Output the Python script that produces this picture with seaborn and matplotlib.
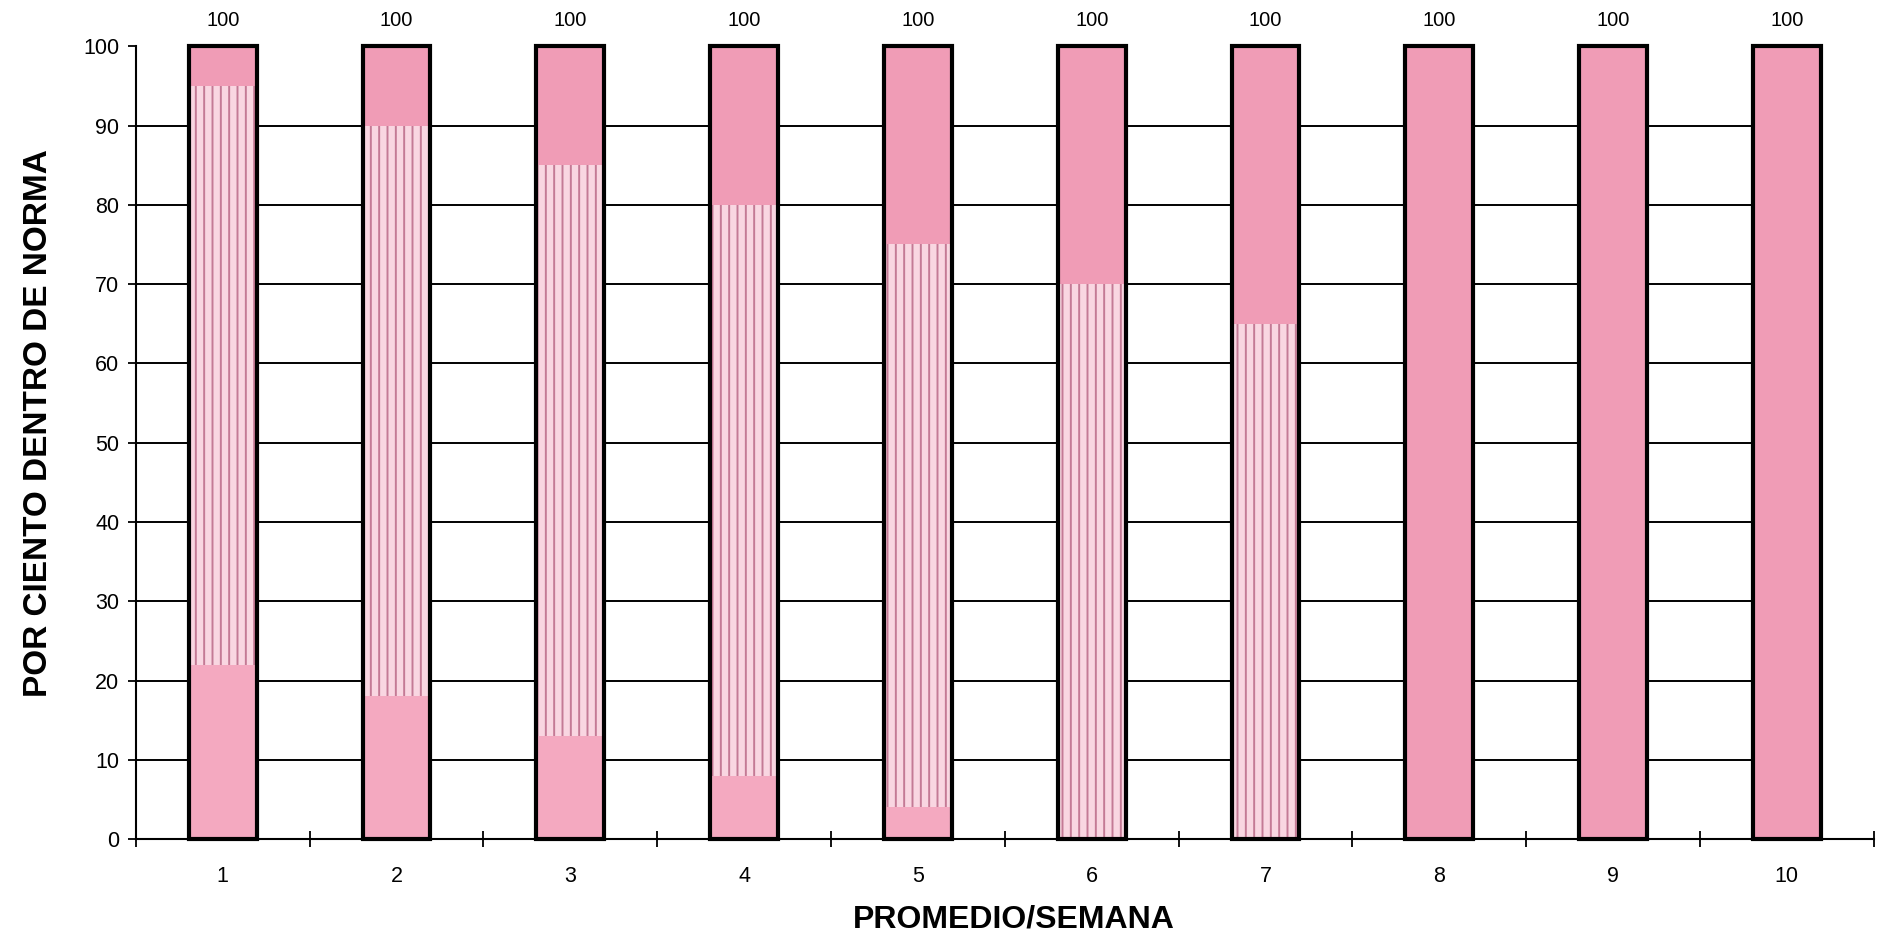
import matplotlib
matplotlib.use("Agg")
import matplotlib.pyplot as plt
import seaborn as sns
import pandas as pd

# Weekly averages: share of samples per band (each week sums to 100 %)
semanas = ["1", "2", "3", "4", "5", "6", "7", "8", "9", "10"]
bajo = [22, 18, 13, 8, 4, 0, 0, 0, 0, 0]          # lower solid band
rayado = [73, 72, 72, 72, 71, 70, 65, 0, 0, 0]   # hatched middle band
alto = [5, 10, 15, 20, 25, 30, 35, 100, 100, 100]  # upper solid band
y_ticks = [0, 10, 20, 30, 40, 50, 60, 70, 80, 90, 100]

df = pd.DataFrame({"semana": semanas, "bajo": bajo, "rayado": rayado, "alto": alto})
df["hasta_rayado"] = df["bajo"] + df["rayado"]
df["total"] = df["hasta_rayado"] + df["alto"]

sns.set_theme(style="white")
plt.rcParams["font.family"] = ["Liberation Sans", "DejaVu Sans"]
plt.rcParams["hatch.linewidth"] = 1.4
for key in ("text.color", "axes.labelcolor", "xtick.color", "ytick.color"):
    plt.rcParams[key] = "black"

fig = plt.figure(figsize=(18.93, 9.44), dpi=100)
ax = fig.add_axes([0.0718, 0.111, 0.918, 0.840])

COL_ALTO = "#F09CB6"
COL_BAJO = "#F4A9C0"
COL_RAYADO = "#F9D6E1"
COL_RAYA = "#C47A95"
W = 0.39

# horizontal reference lines
ax.hlines(y_ticks[1:-1], -0.5, 9.2, colors="black", linewidth=1.4, zorder=0)

# stacked layers, drawn from the full height downwards
sns.barplot(data=df, x="semana", y="total", color=COL_ALTO, width=W,
            errorbar=None, linewidth=0, edgecolor=COL_ALTO, saturation=1, ax=ax, zorder=2)
sns.barplot(data=df, x="semana", y="hasta_rayado", color=COL_RAYADO, width=W,
            errorbar=None, linewidth=0, edgecolor=COL_RAYA, hatch="||",
            saturation=1, ax=ax, zorder=3)
sns.barplot(data=df, x="semana", y="bajo", color=COL_BAJO, width=W,
            errorbar=None, linewidth=0, edgecolor=COL_BAJO, saturation=1, ax=ax, zorder=4)
sns.barplot(data=df, x="semana", y="total", fill=False, width=W,
            errorbar=None, linewidth=3.0, edgecolor="black", ax=ax, zorder=5)

outline = ax.containers[-1]
for p in outline:
    p.set_clip_on(False)
ax.bar_label(outline, labels=[f"{v:g}" for v in df["total"]], padding=12, fontsize=14.5)

ax.set_ylim(0, 100)
ax.set_xlim(-0.5, 9.5)
ax.set_yticks(y_ticks)
ax.set_yticklabels([str(t) for t in y_ticks], fontsize=15.5)
ax.tick_params(axis="y", direction="out", length=6, width=1.3, pad=6, left=True)
ax.set_xticks(range(len(semanas)), minor=False)
ax.set_xticks([i - 0.5 for i in range(len(semanas) + 1)], minor=True)
ax.tick_params(axis="x", which="major", length=0, pad=19, labelsize=15.5)
ax.tick_params(axis="x", which="minor", direction="inout", length=12, width=1.3, bottom=True)

for side in ("top", "right"):
    ax.spines[side].set_visible(False)
for side in ("left", "bottom"):
    ax.spines[side].set_color("black")
    ax.spines[side].set_linewidth(1.5)

ax.set_xlabel("PROMEDIO/SEMANA", fontsize=23, fontweight="bold")
ax.set_ylabel("POR CIENTO DENTRO DE NORMA", fontsize=24, fontweight="bold")
ax.xaxis.set_label_coords(0.505, -0.082)
ax.yaxis.set_label_coords(-0.047, 0.525)

fig.savefig("out.png", dpi=100, facecolor="white")
